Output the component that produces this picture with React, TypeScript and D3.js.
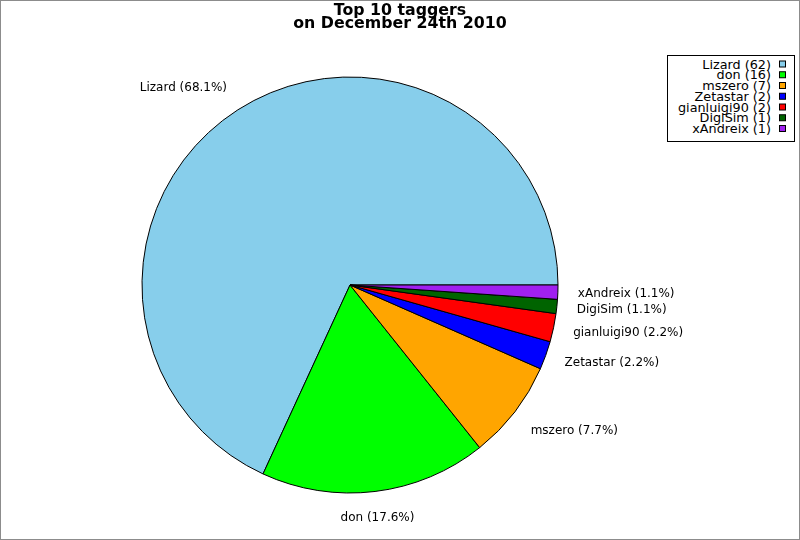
import React from 'react'
import * as d3 from 'd3'

const taggers = ['Lizard', 'don', 'mszero', 'Zetastar', 'gianluigi90', 'DigiSim', 'xAndreix']
const tagCounts = [62, 16, 7, 2, 2, 1, 1]
const sliceColors = ['#87ceeb', '#00ff00', '#ffa500', '#0000ff', '#ff0000', '#006400', '#a020f0']
const titleLines = ['Top 10 taggers', 'on December 24th 2010']

const W = 800
const H = 540
const cx = 350
const cy = 285
const radius = 208
const labelDist = 228

const font = '"DejaVu Sans", sans-serif'

export default function App() {
  const total = d3.sum(tagCounts)
  // start at 3 o'clock and go counter-clockwise
  const pie = d3.pie<number>().sort(null).startAngle(Math.PI / 2).endAngle(Math.PI / 2 - 2 * Math.PI)
  const arcs = pie(tagCounts)
  const arc = d3.arc<d3.PieArcDatum<number>>().innerRadius(0).outerRadius(radius)

  const legendY = d3.scaleLinear().domain([0, taggers.length - 1]).range([64, 128.5])

  return (
    <div style={{ position: 'fixed', left: 0, top: 0 }}>
      <svg width={W} height={H} style={{ display: 'block' }}>
        <rect x={0.5} y={0.5} width={W - 1} height={H - 1} fill="#fff" stroke="#8c8c8c" />

        <g fontFamily={font} fontWeight="bold" fontSize={15.8} textAnchor="middle" fill="#000">
          {titleLines.map((t, i) => (
            <text key={t} x={400} y={15 + i * 12.8}>{t}</text>
          ))}
        </g>

        <g transform={`translate(${cx},${cy})`}>
          {arcs.map((a, i) => (
            <path key={taggers[i]} d={arc(a) ?? ''} fill={sliceColors[i]} stroke="#000" strokeWidth={1} strokeLinejoin="round" />
          ))}
          {arcs.map((a, i) => {
            const mid = (a.startAngle + a.endAngle) / 2
            const dx = Math.sin(mid)
            const dy = -Math.cos(mid)
            const anchor = dx > 0.3 ? 'start' : dx < -0.3 ? 'end' : 'middle'
            const base = dy > 0.5 ? 'hanging' : dy < -0.5 ? 'auto' : 'central'
            const pct = ((tagCounts[i] / total) * 100).toFixed(1)
            return (
              <text
                key={taggers[i]}
                x={dx * labelDist}
                y={dy * labelDist + (base === 'auto' ? -2 : base === 'hanging' ? 1 : 0)}
                textAnchor={anchor}
                dominantBaseline={base}
                fontFamily={font}
                fontSize={12}
                fill="#000"
              >
                {`${taggers[i]} (${pct}%)`}
              </text>
            )
          })}
        </g>

        <g>
          <rect x={667.5} y={55.5} width={127} height={86} fill="#fff" stroke="#000" />
          {taggers.map((t, i) => (
            <g key={t}>
              <text
                x={771}
                y={legendY(i)}
                textAnchor="end"
                dominantBaseline="central"
                fontFamily={font}
                fontSize={12.8}
                fill="#000"
              >
                {`${t} (${tagCounts[i]})`}
              </text>
              <rect x={779.5} y={legendY(i) - 3} width={6} height={6} fill={sliceColors[i]} stroke="#000" />
            </g>
          ))}
        </g>
      </svg>
    </div>
  )
}
